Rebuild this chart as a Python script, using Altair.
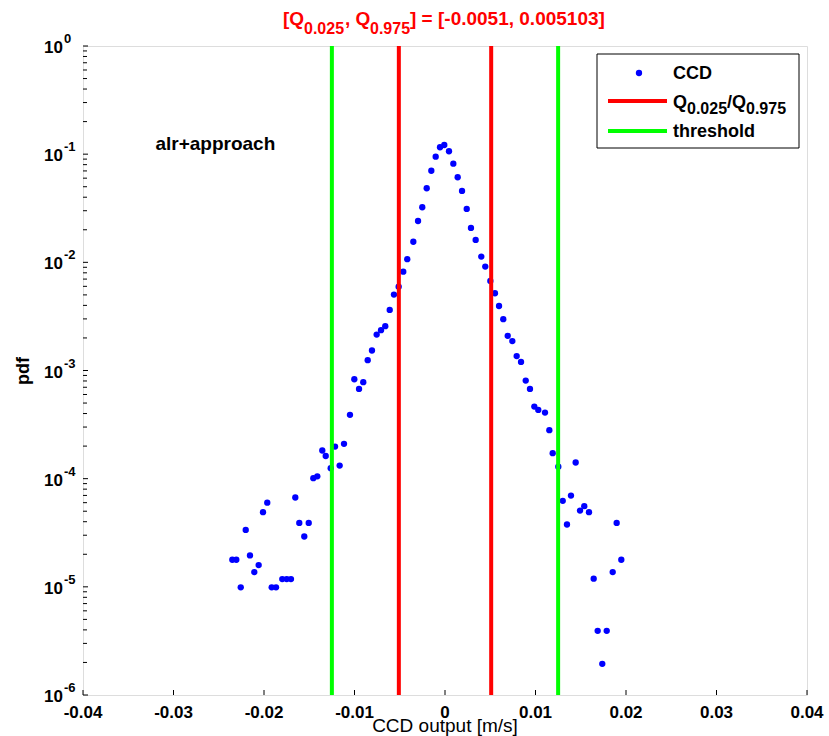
import altair as alt
import pandas as pd

# ---------------- data ----------------
ccd_x = [-0.02350, -0.02306, -0.02257, -0.02202, -0.02155, -0.02107, -0.02059, -0.02011,
         -0.01964, -0.01915, -0.01867, -0.01798, -0.01749, -0.01702, -0.01654, -0.01610,
         -0.01555, -0.01506, -0.01455, -0.01411, -0.01356, -0.01318, -0.01263, -0.01215,
         -0.01164, -0.01116, -0.01050, -0.01002, -0.00950, -0.00903, -0.00854, -0.00807,
         -0.00755, -0.00707, -0.00660, -0.00611, -0.00564, -0.00512, -0.00461, -0.00417,
         -0.00350, -0.00298, -0.00251, -0.00202, -0.00151, -0.00103, -0.00055, -0.00008,
         0.00044, 0.00092, 0.00140, 0.00188, 0.00240, 0.00287, 0.00339, 0.00401,
         0.00445, 0.00501, 0.00552, 0.00597, 0.00644, 0.00693, 0.00744, 0.00792,
         0.00840, 0.00892, 0.00939, 0.00987, 0.01031, 0.01105, 0.01153, 0.01190,
         0.01252, 0.01301, 0.01348, 0.01392, 0.01444, 0.01492, 0.01539, 0.01591,
         0.01643, 0.01687, 0.01738, 0.01787, 0.01853, 0.01897, 0.01948]
ccd_pdf = [1.78e-5, 1.78e-5, 9.9e-6, 3.36e-5, 1.95e-5, 1.37e-5, 1.59e-5, 4.9e-5,
           6.0e-5, 9.9e-6, 9.9e-6, 1.18e-5, 1.18e-5, 1.18e-5, 6.7e-5, 3.9e-5,
           2.92e-5, 3.9e-5, 1.01e-4, 1.05e-4, 1.82e-4, 1.62e-4, 1.25e-4, 1.98e-4,
           1.32e-4, 2.10e-4, 3.89e-4, 8.3e-4, 6.76e-4, 7.8e-4, 1.245e-3, 1.53e-3,
           2.15e-3, 2.36e-3, 2.57e-3, 3.63e-3, 5.03e-3, 5.96e-3, 8.2e-3, 1.07e-2,
           1.55e-2, 2.41e-2, 3.23e-2, 4.84e-2, 7.03e-2, 9.48e-2, 0.1158, 0.1216,
           0.1064, 8.17e-2, 6.12e-2, 4.57e-2, 3.12e-2, 2.08e-2, 1.61e-2, 1.13e-2,
           9.13e-3, 6.73e-3, 5.18e-3, 3.95e-3, 2.98e-3, 2.09e-3, 1.87e-3, 1.36e-3,
           1.20e-3, 8.07e-4, 6.76e-4, 4.64e-4, 4.32e-4, 4.08e-4, 2.81e-4, 1.72e-4,
           1.29e-4, 6.24e-5, 3.77e-5, 6.98e-5, 1.41e-4, 5.07e-5, 5.57e-5, 4.9e-5,
           1.19e-5, 3.92e-6, 1.94e-6, 3.92e-6, 1.37e-5, 3.9e-5, 1.78e-5]
q_lines = [-0.0051, 0.005103]
thr_lines = [-0.0125, 0.0125]
x_ticks = [-0.04, -0.03, -0.02, -0.01, 0, 0.01, 0.02, 0.03, 0.04]
x_tick_labels = ["-0.04", "-0.03", "-0.02", "-0.01", "0", "0.01", "0.02", "0.03", "0.04"]
y_exps = [-6, -5, -4, -3, -2, -1, 0]
minor_mult = [2, 3, 4, 5, 6, 7, 8, 9]

# ---------------- styling ----------------
W, H = 724, 649
FONT = "Liberation Sans"
BLUE, RED, GREEN = "#0000ff", "#ff0000", "#00ff00"

xscale = alt.Scale(domain=[-0.04, 0.04], nice=False, zero=False)
yscale = alt.Scale(type="log", domain=[1e-6, 1], nice=False)

one = pd.DataFrame({"a": [0]})

points = alt.Chart(pd.DataFrame({"x": ccd_x, "pdf": ccd_pdf})).mark_point(
    filled=True, shape="circle", size=40, color=BLUE, opacity=1
).encode(
    x=alt.X("x:Q", scale=xscale,
            axis=alt.Axis(labels=False, ticks=False, grid=False, title=None,
                          domain=True, domainColor="black", domainWidth=1.3)),
    y=alt.Y("pdf:Q", scale=yscale,
            axis=alt.Axis(labels=False, ticks=False, grid=False, title=None,
                          domain=True, domainColor="black", domainWidth=1.3)),
)

def vlines(vals, color):
    return alt.Chart(pd.DataFrame({"v": vals})).mark_rule(color=color, strokeWidth=4).encode(
        x=alt.X("v:Q", scale=xscale, axis=None))

q_rules = vlines(q_lines, RED)
thr_rules = vlines(thr_lines, GREEN)

xt_df = pd.DataFrame({"v": x_ticks, "t": x_tick_labels})
xtick_layer = alt.Chart(xt_df).mark_rule(color="black", strokeWidth=1).encode(
    x=alt.X("v:Q", scale=xscale, axis=None), y=alt.value(H), y2=alt.value(H - 5))
xlab_layer = alt.Chart(xt_df).mark_text(
    align="center", baseline="alphabetic", font=FONT, fontSize=17, fontWeight="bold", color="black"
).encode(x=alt.X("v:Q", scale=xscale, axis=None), y=alt.value(H + 23), text="t:N")
xtitle = alt.Chart(one).mark_text(
    align="center", baseline="alphabetic", font=FONT, fontSize=19, fontWeight="normal", color="black"
).encode(x=alt.value(W / 2), y=alt.value(H + 37), text=alt.value("CCD output [m/s]"))

major_vals = [10.0 ** e for e in y_exps]
minor_vals = [m * 10.0 ** e for e in y_exps[:-1] for m in minor_mult]
ytick_major = alt.Chart(pd.DataFrame({"v": major_vals})).mark_rule(color="black", strokeWidth=1).encode(
    y=alt.Y("v:Q", scale=yscale, axis=None), x=alt.value(0), x2=alt.value(5))
ytick_minor = alt.Chart(pd.DataFrame({"v": minor_vals})).mark_rule(color="black", strokeWidth=1).encode(
    y=alt.Y("v:Q", scale=yscale, axis=None), x=alt.value(0), x2=alt.value(4))

ylab_df = pd.DataFrame({"v": major_vals, "e": [str(e) for e in y_exps]})
ylab_base = alt.Chart(ylab_df).mark_text(
    align="right", baseline="alphabetic", dy=7, font=FONT, fontSize=17, fontWeight="bold", color="black"
).encode(y=alt.Y("v:Q", scale=yscale, axis=None), x=alt.value(-20), text=alt.value("10"))
ylab_exp = alt.Chart(ylab_df).mark_text(
    align="left", baseline="alphabetic", dy=-3, font=FONT, fontSize=13, fontWeight="bold", color="black"
).encode(y=alt.Y("v:Q", scale=yscale, axis=None), x=alt.value(-19), text="e:N")

ytitle = alt.Chart(one).mark_text(
    angle=270, align="center", baseline="alphabetic", font=FONT, fontSize=18, fontWeight="bold", color="black"
).encode(x=alt.value(-54), y=alt.value(325), text=alt.value("pdf"))

annot = alt.Chart(pd.DataFrame({"x": [-0.032], "y": [0.11], "t": ["alr+approach"]})).mark_text(
    align="left", baseline="alphabetic", font=FONT, fontSize=19, fontWeight="bold", color="black"
).encode(x=alt.X("x:Q", scale=xscale, axis=None), y=alt.Y("y:Q", scale=yscale, axis=None), text="t:N")

def txt(s, x, y, size, color="black", weight="bold"):
    return alt.Chart(one).mark_text(
        align="left", baseline="alphabetic", font=FONT, fontSize=size, fontWeight=weight, color=color
    ).encode(x=alt.value(x), y=alt.value(y), text=alt.value(s))

title_parts = [
    txt("[Q", 200, -21, 19, RED),
    txt("0.025", 221, -12, 16, RED),
    txt(", Q", 262, -21, 19, RED),
    txt("0.975", 287, -12, 16, RED),
    txt("] = [-0.0051, 0.005103]", 327, -21, 19, RED),
]

legend_box = alt.Chart(one).mark_rect(fill="white", stroke="black", strokeWidth=1).encode(
    x=alt.value(514), x2=alt.value(716), y=alt.value(8), y2=alt.value(102))
legend_dot = alt.Chart(one).mark_point(filled=True, shape="circle", size=40, color=BLUE, opacity=1).encode(
    x=alt.value(556), y=alt.value(27))
legend_red = alt.Chart(one).mark_rule(color=RED, strokeWidth=4).encode(
    x=alt.value(525), x2=alt.value(584), y=alt.value(55))
legend_green = alt.Chart(one).mark_rule(color=GREEN, strokeWidth=4).encode(
    x=alt.value(525), x2=alt.value(584), y=alt.value(85))
legend_texts = [
    txt("CCD", 590, 33, 18),
    txt("Q", 590, 62, 18),
    txt("0.025", 604, 68, 16),
    txt("/Q", 644, 62, 18),
    txt("0.975", 663, 68, 16),
    txt("threshold", 590, 91, 18),
]

chart = alt.layer(
    points, q_rules, thr_rules, xtick_layer, xlab_layer, xtitle, ytick_major, ytick_minor,
    ylab_base, ylab_exp, ytitle, annot, *title_parts,
    legend_box, legend_dot, legend_red, legend_green, *legend_texts
).properties(
    width=W, height=H,
    padding={"left": 83, "top": 46, "right": 22, "bottom": 41},
    autosize=alt.AutoSizeParams(type="none"),
).configure_view(stroke=None).configure(background="white")

chart.save("out.html", embed_options={"renderer": "svg", "actions": False})
